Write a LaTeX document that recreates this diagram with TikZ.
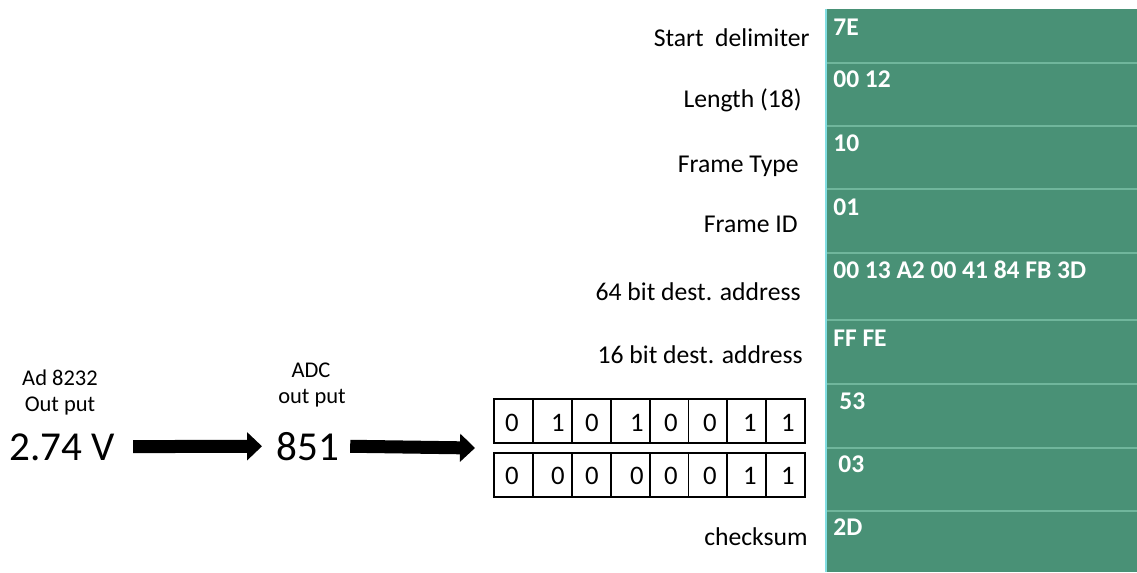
\documentclass[tikz,border=0pt]{standalone}
\usepackage{fontspec}
\setmainfont{Carlito}
\usetikzlibrary{arrows.meta}
\definecolor{xbee}{RGB}{73,145,118}
\definecolor{xsep}{RGB}{112,182,156}
\definecolor{xedge}{RGB}{130,222,226}
\begin{document}
\begin{tikzpicture}[x=0.02cm,y=-0.02cm,
  lbl/.style={font=\fontsize{14.6}{16}\selectfont, inner sep=0pt, anchor=base east},
  hex/.style={font=\bfseries\fontsize{14.5}{16}\selectfont, text=white, inner sep=0pt, anchor=base west},
  captxt/.style={font=\fontsize{12.8}{15}\selectfont, inner sep=0pt, anchor=base},
  big/.style={font=\fontsize{23.4}{26}\selectfont, inner sep=0pt, anchor=base west},
  bitcell/.style={draw, line width=1.1pt, minimum width=0.778cm, minimum height=0.88cm, inner sep=0pt, outer sep=0pt, anchor=north west},
  bit/.style={font=\fontsize{15.2}{17}\selectfont, inner sep=0pt, anchor=base},
  bigarrow/.style={line width=7.4pt, -{Triangle[length=8.5pt,width=15.6pt]}}
]
\useasboundingbox (0,0) rectangle (1137,572);

% frame table
\fill[xbee] (826,9) rectangle (1137,572);
\foreach \y in {63,126,189,253,320,384,448,511}
  \draw[xsep, line width=1.1pt] (827,\y) -- (1137,\y);
\draw[xedge, line width=1.2pt] (826,9) -- (826,572);

% field names
\node[lbl] (l1) at (810,46) {Start\ \ delimiter};
\node[lbl] (l2) at (802,107) {Length (18)};
\node[lbl] (l3) at (799,172) {Frame Type};
\node[lbl] (l4) at (798,232) {Frame ID};
\node[lbl] (l5) at (801,300) {64 bit dest. address};
\node[lbl] (l6) at (803,363) {16 bit dest. address};
\node[lbl] (l7) at (808,545) {checksum};

% field values
\node[hex] (h1) at (833,35) {7E};
\node[hex] (h2) at (833,87) {00 12};
\node[hex] (h3) at (833,151) {10};
\node[hex] (h4) at (833,215) {01};
\node[hex] (h5) at (833,278) {00 13 A2 00 41 84 FB 3D};
\node[hex] (h6) at (833,346) {FF FE};
\node[hex] (h7) at (839,409) {53};
\node[hex] (h8) at (838,472) {03};
\node[hex] (h9) at (833,535) {2D};

% captions
\node[captxt] (c1) at (60,385) {Ad 8232};
\node[captxt] (c2) at (60,411) {Out put};
\node[captxt] (c3) at (311,377) {ADC};
\node[captxt] (c4) at (312,403) {out put};

% values
\node[big] (v) at (9,460) {2.74 V};
\node[big] (n) at (276,460) {851};

% bit cells
\foreach \i in {0,...,7} {
  \node[bitcell] (a\i) at ({494+38.9*\i},399) {};
  \node[bitcell] (b\i) at ({494+38.9*\i},453) {};
}
\foreach \x/\d [count=\k] in {512/0,558/1,592/0,637/1,671/0,710/0,750/1,788/1}
  \node[bit] (da\k) at (\x,431) {\d};
\foreach \x/\d [count=\k] in {512/0,558/0,592/0,637/0,671/0,710/0,750/1,788/1}
  \node[bit] (db\k) at (\x,484) {\d};
\coordinate (bits) at (494,448);

% arrows
\draw[bigarrow, shorten <=0.36cm, shorten >=0.28cm] (v) -- (n);
\draw[bigarrow, shorten <=0.22cm] (n.east) -- ([xshift=-0.38cm]bits);
\end{tikzpicture}
\end{document}
